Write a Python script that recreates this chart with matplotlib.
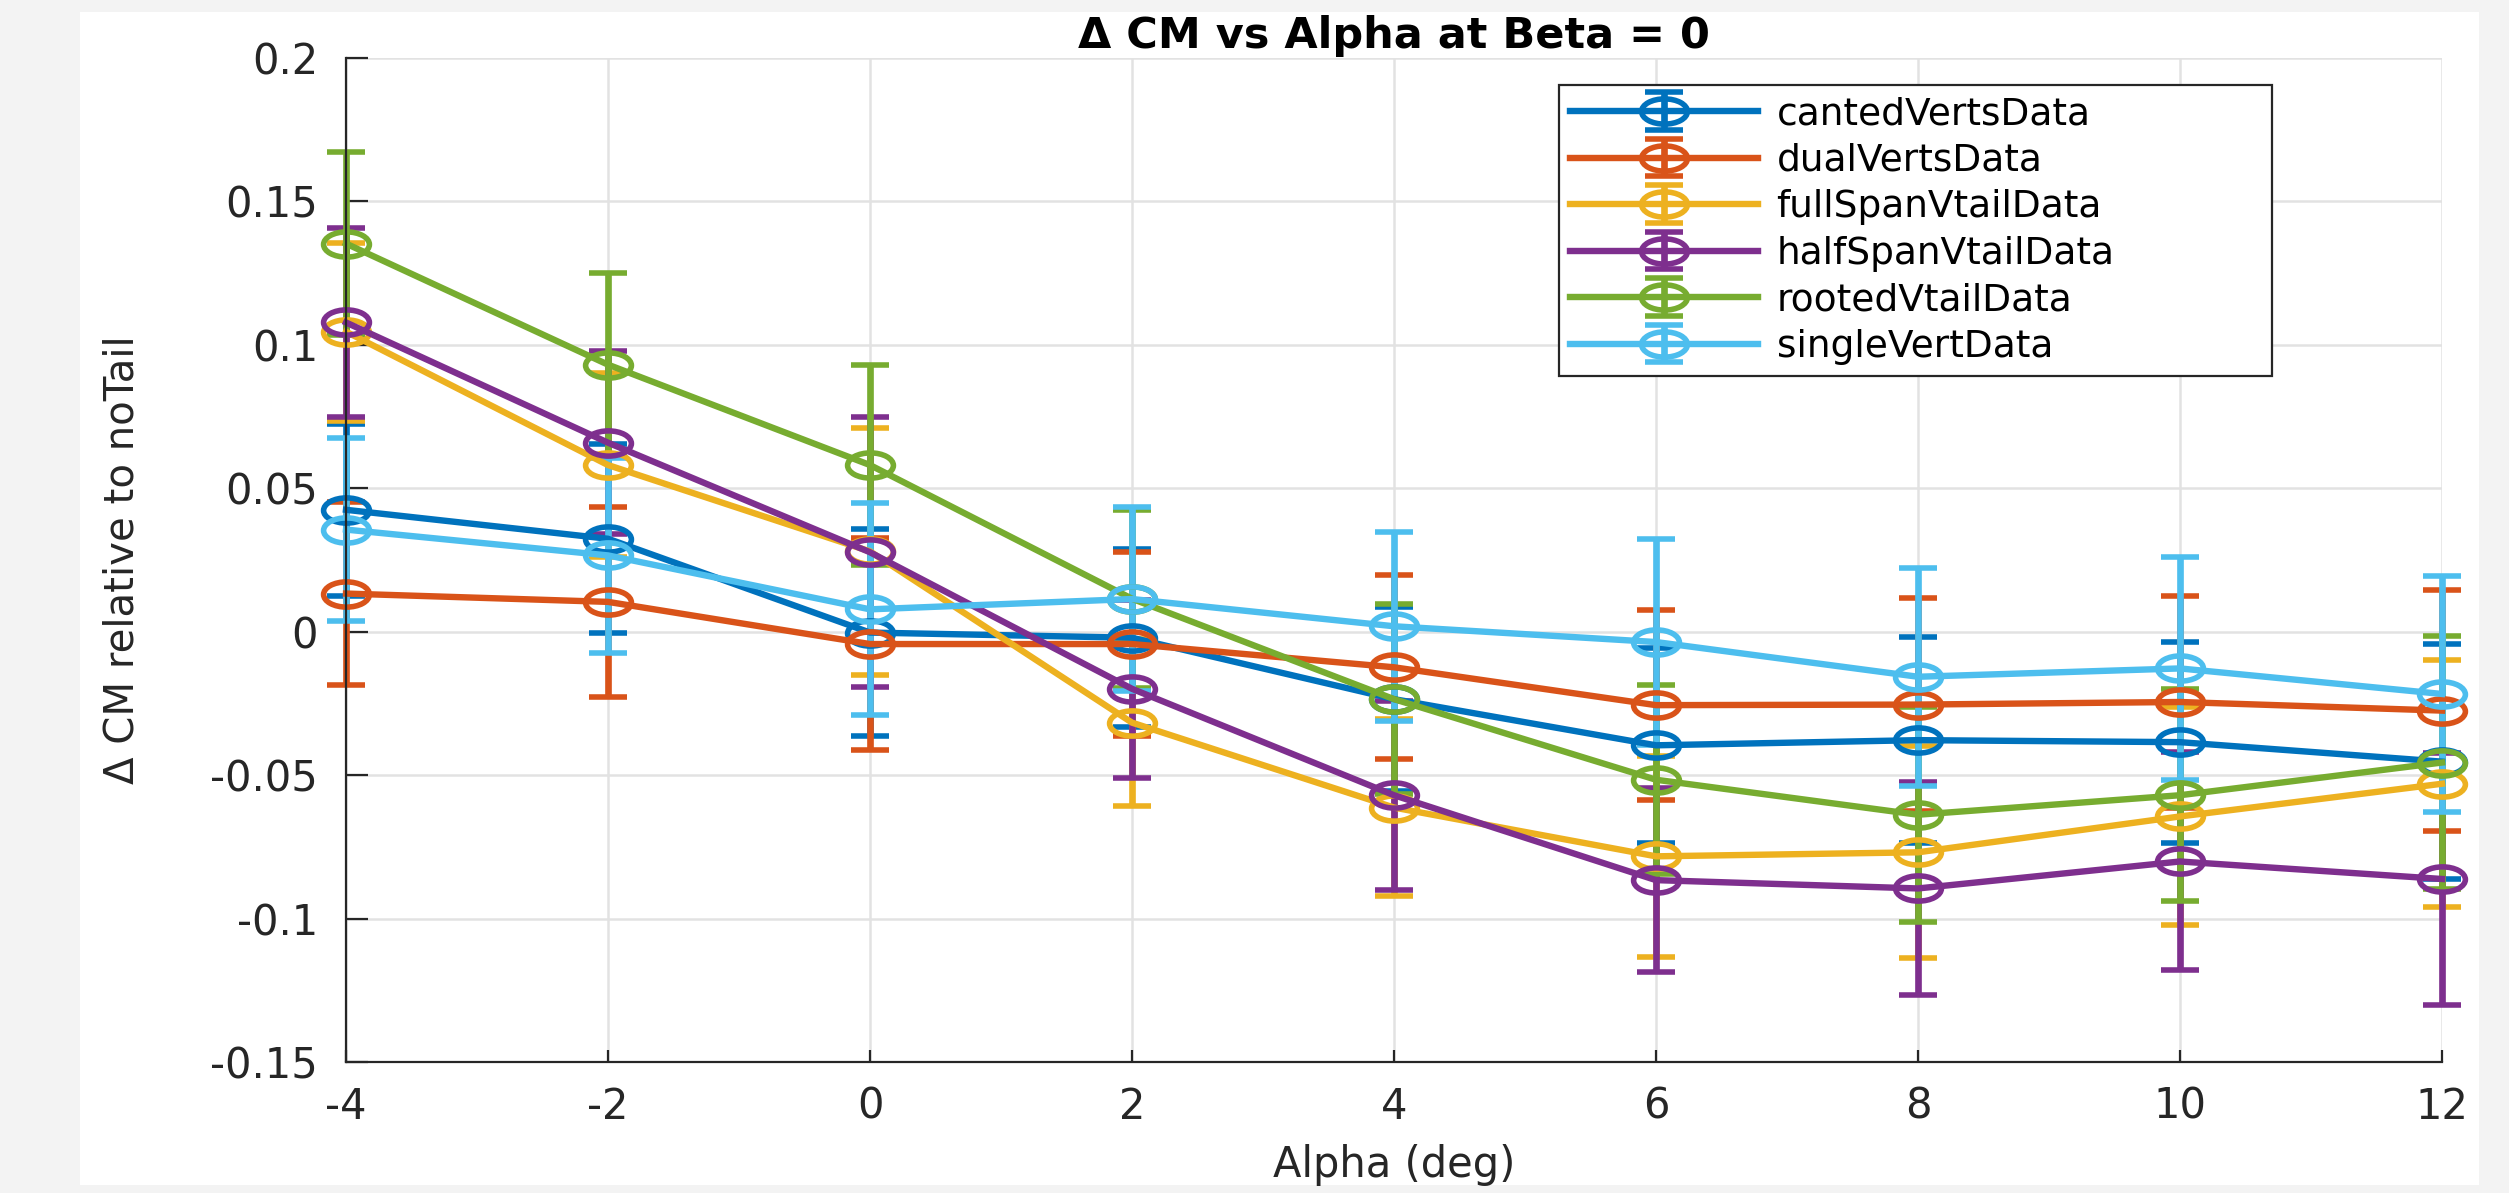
import matplotlib
matplotlib.use("Agg")
import matplotlib.pyplot as plt
from matplotlib.path import Path
from matplotlib.patches import Rectangle

# ---------------- data ----------------
alpha = [-4, -2, 0, 2, 4, 6, 8, 10, 12]

series_names = ["cantedVertsData", "dualVertsData", "fullSpanVtailData",
                "halfSpanVtailData", "rootedVtailData", "singleVertData"]

canted_vals = [0.0425, 0.0324, -0.0003, -0.0021, -0.0235, -0.0396, -0.0378, -0.0385, -0.0453]
canted_err = [0.030, 0.033, 0.036, 0.031, 0.032, 0.034, 0.036, 0.035, 0.041]

dual_vals = [0.0133, 0.0104, -0.0043, -0.0043, -0.0124, -0.0256, -0.0254, -0.0245, -0.0275]
dual_err = [0.032, 0.033, 0.037, 0.032, 0.032, 0.033, 0.037, 0.037, 0.042]

fullspan_vals = [0.1046, 0.0581, 0.0280, -0.0317, -0.0613, -0.0783, -0.0769, -0.0644, -0.0530]
fullspan_err = [0.031, 0.032, 0.043, 0.029, 0.031, 0.035, 0.037, 0.038, 0.043]

halfspan_vals = [0.1078, 0.0659, 0.0277, -0.0199, -0.0570, -0.0866, -0.0895, -0.0801, -0.0862]
halfspan_err = [0.033, 0.032, 0.047, 0.031, 0.033, 0.032, 0.037, 0.038, 0.044]

rooted_vals = [0.1353, 0.0931, 0.0581, 0.0115, -0.0235, -0.0516, -0.0638, -0.0570, -0.0456]
rooted_err = [0.032, 0.032, 0.035, 0.031, 0.033, 0.033, 0.0375, 0.037, 0.044]

single_vals = [0.0356, 0.0266, 0.0078, 0.0114, 0.0019, -0.0036, -0.0157, -0.0128, -0.0217]
single_err = [0.032, 0.034, 0.037, 0.032, 0.033, 0.036, 0.038, 0.039, 0.041]

xticks = [-4, -2, 0, 2, 4, 6, 8, 10, 12]
xtick_labels = ["-4", "-2", "0", "2", "4", "6", "8", "10", "12"]
yticks = [-0.15, -0.1, -0.05, 0, 0.05, 0.1, 0.15, 0.2]
ytick_labels = ["-0.15", "-0.1", "-0.05", "0", "0.05", "0.1", "0.15", "0.2"]

colors = ["#0072BD", "#D95319", "#EDB120", "#7E2F8E", "#77AC30", "#4DBEEE"]

# ---------------- figure ----------------
plt.rcParams['font.family'] = ['DejaVu Sans']
plt.rcParams['axes.unicode_minus'] = False
W, H = 2509, 1193
fig = plt.figure(figsize=(W / 100, H / 100), dpi=100)
fig.patch.set_facecolor("#f3f3f3")
fig.add_artist(Rectangle((80 / W, 1 - 1185 / H), (2479 - 80) / W, (1185 - 12) / H,
                         transform=fig.transFigure, facecolor="white",
                         edgecolor="none", zorder=-10))

ax = fig.add_axes([346 / W, 1 - 1062 / H, (2442 - 346) / W, (1062 - 58) / H])
ax.set_facecolor("white")

# elliptical open marker (reference circles are stretched horizontally)
circ = Path.unit_circle()
ell = Path(circ.vertices * [1.0, 0.55], circ.codes)

vals = [canted_vals, dual_vals, fullspan_vals, halfspan_vals, rooted_vals, single_vals]
errs = [canted_err, dual_err, fullspan_err, halfspan_err, rooted_err, single_err]

for name, v, e, c in zip(series_names, vals, errs, colors):
    cont = ax.errorbar(alpha, v, yerr=e, color=c, lw=4.6, elinewidth=4.8, capsize=14,
                       capthick=4.0, marker=ell, markersize=33, mfc="none", mec=c,
                       mew=4.0, label=name)
    for art in cont.get_children():
        art.set_clip_on(False)

ax.set_xlim(-4, 12)
ax.set_ylim(-0.15, 0.2)
ax.set_xticks(xticks)
ax.set_xticklabels(xtick_labels)
ax.set_yticks(yticks)
ax.set_yticklabels(ytick_labels)
ax.grid(True, color="#e2e2e2", lw=1.8)
ax.set_axisbelow(True)
for s in ["top", "right"]:
    ax.spines[s].set_visible(False)
for s in ["left", "bottom"]:
    ax.spines[s].set_color("#262626")
    ax.spines[s].set_linewidth(1.6)

ax.tick_params(axis="y", direction="in", length=16, width=1.6, colors="#262626",
               labelsize=30, pad=20)
ax.tick_params(axis="x", direction="in", length=9, width=1.6, colors="#262626",
               labelsize=30, pad=17)

ax.set_xlabel("Alpha (deg)", fontsize=30, color="#262626", labelpad=12)
ax.set_ylabel("\u0394 CM relative to noTail", fontsize=29, color="#262626")
ax.yaxis.set_label_coords(-0.097, 0.5)
ax.set_title("\u0394 CM vs Alpha at Beta = 0", fontsize=31, fontweight="bold", pad=7)

leg = ax.legend(loc="upper left", bbox_to_anchor=(1559 / W, 0.3, (2272 - 1559) / W, 1 - 85 / H - 0.3),
                bbox_transform=fig.transFigure, mode="expand", borderaxespad=0,
                fontsize=27, handlelength=5.0, handletextpad=0.5, labelspacing=0.28,
                borderpad=0.3, fancybox=False, framealpha=1, edgecolor="#262626")
leg.get_frame().set_linewidth(1.6)

fig.savefig("out.png", dpi=100, facecolor=fig.get_facecolor())
